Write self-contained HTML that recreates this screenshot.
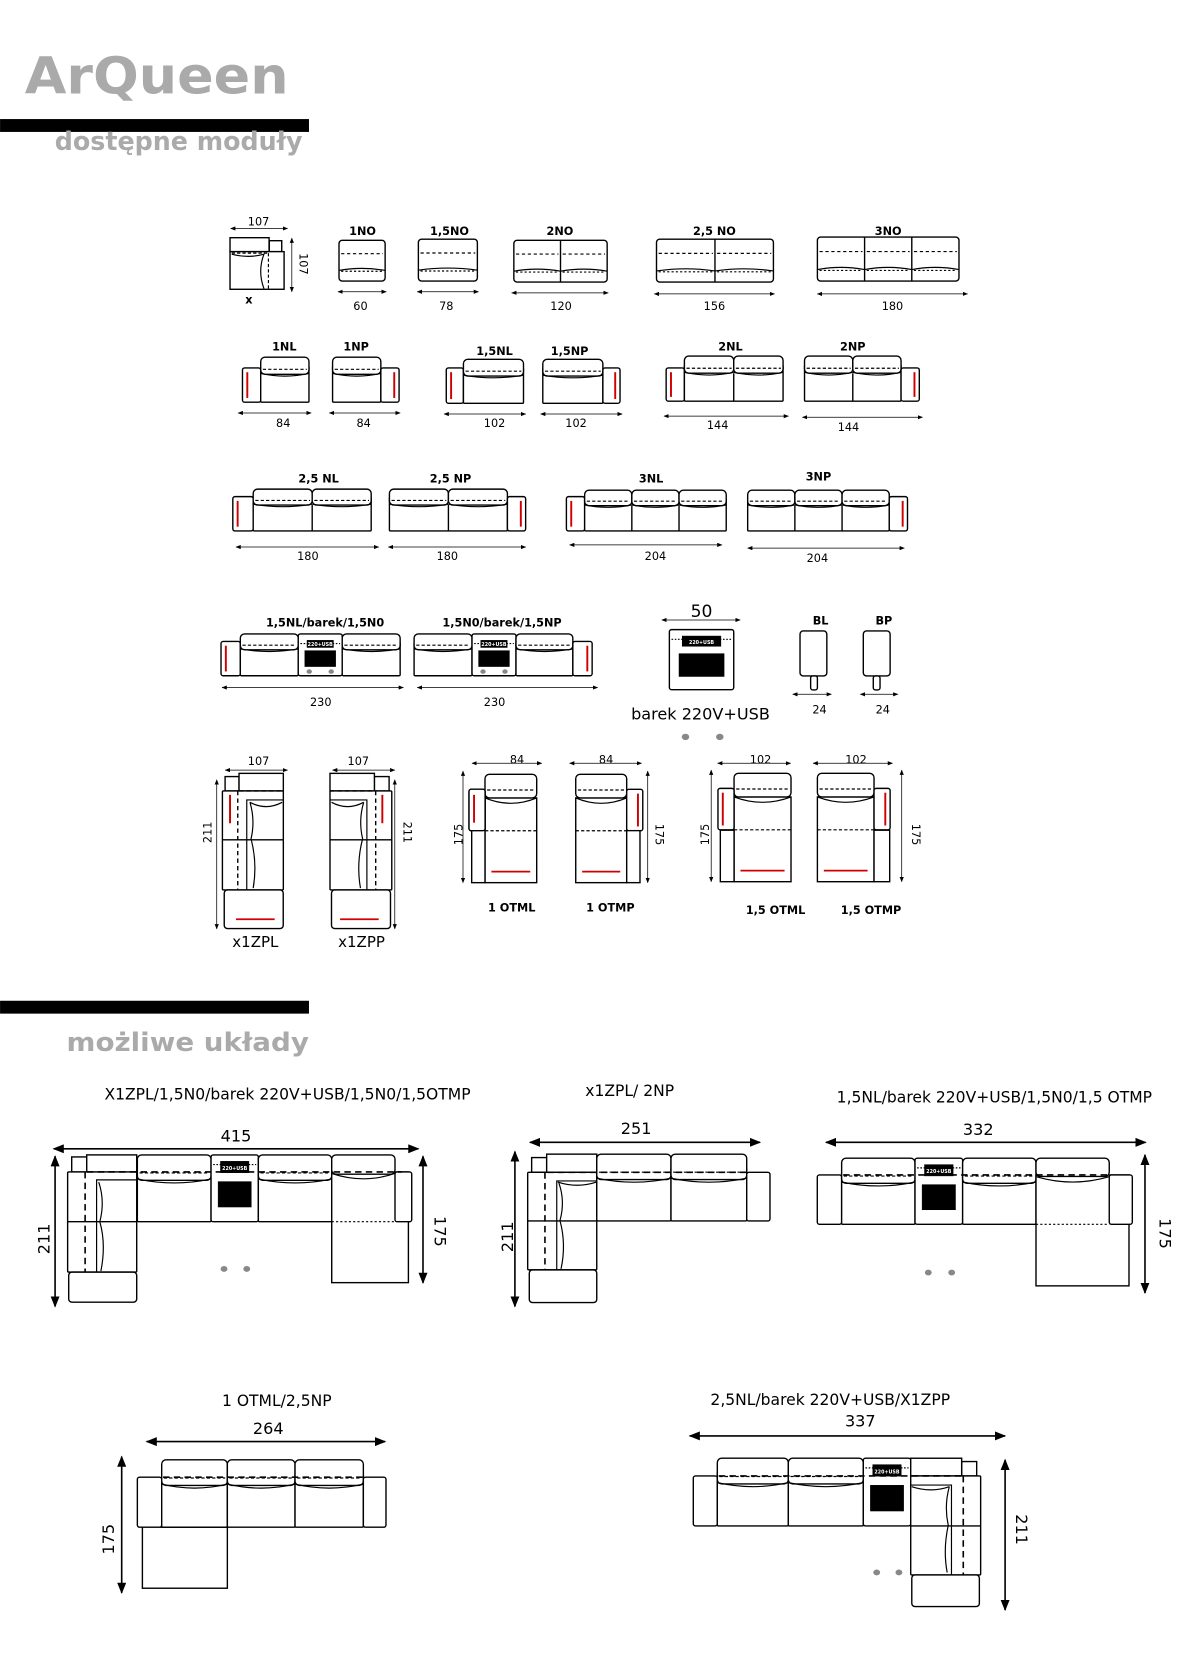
<!DOCTYPE html>
<html><head><meta charset="utf-8">
<style>
html,body{margin:0;padding:0;background:#fff;}
svg{display:block;}
text{font-family:"DejaVu Sans","Liberation Sans",sans-serif;}
.m{font-size:10.5px;font-weight:bold;text-anchor:middle;}
.d{font-size:10.5px;text-anchor:middle;}
.t{font-size:14.5px;text-anchor:middle;}
.D{font-size:15px;text-anchor:middle;}
</style></head>
<body>
<svg id="s" width="1180" height="1669" viewBox="0 0 1100 1556" xmlns="http://www.w3.org/2000/svg">
<defs>
<marker id="a" viewBox="0 0 10 8" refX="9" refY="4" markerWidth="7" markerHeight="5.6" orient="auto-start-reverse" markerUnits="strokeWidth"><path d="M0 0 L10 4 L0 8 Z" fill="#000"/></marker>
</defs>
<rect width="1100" height="1556" fill="#fff"/>
<text x="23" y="87" font-size="47" font-weight="bold" fill="#aaa" textLength="246" lengthAdjust="spacingAndGlyphs">ArQueen</text>
<rect x="0" y="111" width="288" height="12" fill="#000"/>
<text x="51" y="140" font-size="24" font-weight="bold" fill="#aaa" textLength="231" lengthAdjust="spacingAndGlyphs">dostępne moduły</text>
<rect x="0" y="933" width="288" height="12" fill="#000"/>
<text x="62" y="980" font-size="24" font-weight="bold" fill="#aaa" textLength="226" lengthAdjust="spacingAndGlyphs">możliwe układy</text>
<g id="g"></g>

<!-- row 1 labels -->
<text class="d" x="241" y="210">107</text>
<text class="d" transform="translate(279,246) rotate(90)">107</text>
<text class="m" x="232" y="283">x</text>
<text class="m" x="338" y="219">1NO</text>
<text class="m" x="419" y="219">1,5NO</text>
<text class="m" x="522" y="219">2NO</text>
<text class="m" x="666" y="219">2,5 NO</text>
<text class="m" x="828" y="219">3NO</text>
<text class="d" x="336" y="289">60</text>
<text class="d" x="416" y="289">78</text>
<text class="d" x="523" y="289">120</text>
<text class="d" x="666" y="289">156</text>
<text class="d" x="832" y="289">180</text>
<!-- row 2 -->
<text class="m" x="265" y="327">1NL</text>
<text class="m" x="332" y="327">1NP</text>
<text class="m" x="461" y="331">1,5NL</text>
<text class="m" x="531" y="331">1,5NP</text>
<text class="m" x="681" y="327">2NL</text>
<text class="m" x="795" y="327">2NP</text>
<text class="d" x="264" y="398">84</text>
<text class="d" x="339" y="398">84</text>
<text class="d" x="461" y="398">102</text>
<text class="d" x="537" y="398">102</text>
<text class="d" x="669" y="400">144</text>
<text class="d" x="791" y="402">144</text>
<!-- row 3 -->
<text class="m" x="297" y="450">2,5 NL</text>
<text class="m" x="420" y="450">2,5 NP</text>
<text class="m" x="607" y="450">3NL</text>
<text class="m" x="763" y="448">3NP</text>
<text class="d" x="287" y="522">180</text>
<text class="d" x="417" y="522">180</text>
<text class="d" x="611" y="522">204</text>
<text class="d" x="762" y="524">204</text>
<!-- row 4 -->
<text class="m" x="303" y="584">1,5NL/barek/1,5N0</text>
<text class="m" x="468" y="584">1,5N0/barek/1,5NP</text>
<text class="d" x="299" y="658">230</text>
<text class="d" x="461" y="658">230</text>
<text x="654" y="575" font-size="16" text-anchor="middle">50</text>
<text x="653" y="671" font-size="15" text-anchor="middle">barek 220V+USB</text>
<text class="m" x="765" y="582">BL</text>
<text class="m" x="824" y="582">BP</text>
<text class="d" x="764" y="665">24</text>
<text class="d" x="823" y="665">24</text>
<!-- row 5 -->
<text class="d" x="241" y="713">107</text>
<text class="d" x="334" y="713">107</text>
<text class="d" transform="translate(197,776) rotate(-90)">211</text>
<text class="d" transform="translate(376,776) rotate(90)">211</text>
<text x="238" y="883" font-size="14" text-anchor="middle">x1ZPL</text>
<text x="337" y="883" font-size="14" text-anchor="middle">x1ZPP</text>
<text class="d" x="482" y="712">84</text>
<text class="d" x="565" y="712">84</text>
<text class="d" transform="translate(431,778) rotate(-90)">175</text>
<text class="d" transform="translate(611,778) rotate(90)">175</text>
<text class="d" x="709" y="712">102</text>
<text class="d" x="798" y="712">102</text>
<text class="d" transform="translate(661,778) rotate(-90)">175</text>
<text class="d" transform="translate(850,778) rotate(90)">175</text>
<text class="m" x="477" y="850">1 OTML</text>
<text class="m" x="569" y="850">1 OTMP</text>
<text class="m" x="723" y="852">1,5 OTML</text>
<text class="m" x="812" y="852">1,5 OTMP</text>
<!-- layouts -->
<text class="t" x="268" y="1025">X1ZPL/1,5N0/barek 220V+USB/1,5N0/1,5OTMP</text>
<text class="D" x="220" y="1064">415</text>
<text class="D" transform="translate(46,1155) rotate(-90)">211</text>
<text class="D" transform="translate(405,1148) rotate(90)">175</text>
<text class="t" x="587" y="1022">x1ZPL/ 2NP</text>
<text class="D" x="593" y="1057">251</text>
<text class="D" transform="translate(478,1153) rotate(-90)">211</text>
<text class="t" x="927" y="1028">1,5NL/barek 220V+USB/1,5N0/1,5 OTMP</text>
<text class="D" x="912" y="1058">332</text>
<text class="D" transform="translate(1081,1150) rotate(90)">175</text>
<text class="t" x="258" y="1311">1 OTML/2,5NP</text>
<text class="D" x="250" y="1337">264</text>
<text class="D" transform="translate(106,1435) rotate(-90)">175</text>
<text class="t" x="774" y="1310">2,5NL/barek 220V+USB/X1ZPP</text>
<text class="D" x="802" y="1330">337</text>
<text class="D" transform="translate(947,1426) rotate(90)">211</text>
</svg>
<script>
var S=[];
function r(x,y,w,h,rx,f,sw){S.push('<rect x="'+x+'" y="'+y+'" width="'+w+'" height="'+h+'" rx="'+(rx==null?2:rx)+'" fill="'+(f||'#fff')+'" stroke="#000" stroke-width="'+(sw||1.3)+'"/>');}
function l(x1,y1,x2,y2,d,c,w){S.push('<line x1="'+x1+'" y1="'+y1+'" x2="'+x2+'" y2="'+y2+'" stroke="'+(c||'#000')+'" stroke-width="'+(w||1.1)+'"'+(d?' stroke-dasharray="'+d+'"':'')+'/>');}
function p(d,w){S.push('<path d="'+d+'" fill="none" stroke="#000" stroke-width="'+(w||1.1)+'"/>');}
function ha(x1,x2,y,w){w=w||0.7;S.push('<line x1="'+x1+'" y1="'+y+'" x2="'+x2+'" y2="'+y+'" stroke="#000" stroke-width="'+w+'" marker-start="url(#a)" marker-end="url(#a)"/>');}
function va(x,y1,y2,w){w=w||0.7;S.push('<line x1="'+x+'" y1="'+y1+'" x2="'+x+'" y2="'+y2+'" stroke="#000" stroke-width="'+w+'" marker-start="url(#a)" marker-end="url(#a)"/>');}
function dot(x,y,rr){S.push('<ellipse cx="'+x+'" cy="'+y+'" rx="'+(rr||3.2)+'" ry="'+((rr||3.2)*0.85)+'" fill="#888"/>');}
function m1(x,y,w,h,n){r(x,y,w,h,3);var sw=w/n;for(var i=0;i<n;i++){var a=x+i*sw,b=a+sw;l(a+2,y+h*0.33,b-2,y+h*0.33,'3,2.5');p('M'+a+' '+(y+h*0.74)+' Q'+(a+sw/2)+' '+(y+h*0.64)+' '+b+' '+(y+h*0.74));l(a+2,y+h*0.76,b-2,y+h*0.76,'2,2');if(i)l(a,y,a,y+h,0,0,1.3);}}
function m2(x,y,w,h,n){r(x,y+h*0.2,w,h*0.8,1);var sw=w/n;for(var i=0;i<n;i++){var a=x+i*sw,b=a+sw;r(a,y,sw,h*0.38,4);l(a+2,y+h*0.27,b-2,y+h*0.27,'3,2');p('M'+a+' '+(y+h*0.36)+' Q'+(a+sw/2)+' '+(y+h*0.48)+' '+b+' '+(y+h*0.36));if(i)l(a,y+h*0.38,a,y+h,0,0,1.3);}}
function arm(x,y,w,h,side){r(x,y,w,h,2);var rx=side=='L'?x+4.5:x+w-4.5;l(rx,y+4,rx,y+h-4,0,'#d00000',1.8);}
function bar(x,y,w,h,dots){r(x,y,w,h,2);l(x+2,y+9,x+w-2,y+9,'1.5,1.5');r(x+w*0.2,y+6,w*0.6,h*0.17,0,'#000',0.5);S.push('<text x="'+(x+w/2)+'" y="'+(y+6+h*0.13)+'" font-size="4.5" fill="#fff" text-anchor="middle" font-weight="bold">220+USB</text>');r(x+w*0.15,y+h*0.4,w*0.7,h*0.38,0,'#000',0.5);if(dots){dot(x+w*0.25,y+h*0.9,2.5);dot(x+w*0.75,y+h*0.9,2.5);}}

// ROW 1
r(251,224.4,11.6,10.2,0);r(214.4,221.6,36.4,13,0);r(214.4,234.6,50.4,35.1,0);
l(216,236,250,236,'3,2');l(250.2,236,250.2,269.7,'3,2');
p('M216 237 Q232 241 246 237 Q240 253 246 269');
ha(215,268,213);va(272,222,272);
m1(316,224,43,38,1);ha(315,360,272);
m1(390,223,55,39,1);ha(389,446,272);
m1(479,224,87,39,2);ha(477,567,273);
m1(612,223,109,40,2);ha(610,722,274);
m1(762,221,132,41,3);ha(762,902,274);
// ROW 2
arm(226,343,17,32,'L');m2(243,333,45,42,1);ha(222,290,385);
m2(310,333,45,42,1);arm(355,343,17,32,'R');ha(307,373,385);
arm(416,343,16,33,'L');m2(432,335,56,41,1);ha(414,490,386);
m2(506,335,56,41,1);arm(562,343,16,33,'R');ha(504,580,386);
arm(621,343,17,31,'L');m2(638,332,92,42,2);ha(619,735,388);
m2(750,332,90,42,2);arm(840,343,17,31,'R');ha(748,860,389);
// ROW 3
arm(217,463,19,32,'L');m2(236,456,110,39,2);ha(220,353,510);
m2(363,456,110,39,2);arm(473,463,17,32,'R');ha(362,490,510);
arm(528,463,17,32,'L');m2(545,457,132,38,3);ha(531,673,508);
m2(697,457,132,38,3);arm(829,463,17,32,'R');ha(697,843,511);
// ROW 4
arm(206,598,18,32,'L');m2(224,591,54,39,1);bar(278,591,41,39,1);m2(319,591,54,39,1);ha(207,376,641);
m2(386,591,54,39,1);bar(440,591,41,39,1);m2(481,591,53,39,1);arm(534,598,18,32,'R');ha(389,557,641);
bar(624,587,60,56,0);ha(617,690,578);
dot(639,687,3.5);dot(671,687,3.5);
r(745.8,588.2,25,42,3);r(755.7,630.2,6.3,13,2);ha(739,775,647.3);
r(804.8,588.2,25,42,3);r(814.1,630.2,6.3,13,2);ha(802,837,647.3);
// ROW 5 ZPL
r(209.8,724,13,13.4,0);r(222.8,721,41.3,16.4,0);r(207.3,737.4,56.8,92.3,1);r(209,829.7,55,36,3);
l(207.3,783,264,783,0,0,1.3);l(222.8,737.4,264,737.4,'4,3',0,1.3);l(221.6,737.4,221.6,829.7,'4,3',0,1.3);
l(214.4,741,214.4,767.5,0,'#d00000',1.8);l(220,857,256,857,0,'#d00000',1.6);
p('M230 830 L230 745.8 L264 745.8');p('M233 748 Q238 765 234 782 Q240 805 236 828');p('M233 748 Q248 756 263 748');
ha(210,268,718);va(202,727,866);
// ZPP
r(349,724,13.7,13.4,0);r(307.6,721,41.4,16.4,0);r(307.6,737.4,57.6,92.3,1);r(309,829.7,55,36,3);
l(307.6,783,365,783,0,0,1.3);l(307.6,737.4,349,737.4,'4,3',0,1.3);l(350.2,737.4,350.2,829.7,'4,3',0,1.3);
l(356.4,741,356.4,767.5,0,'#d00000',1.8);l(317,857,353,857,0,'#d00000',1.6);
p('M342 830 L342 745.8 L307.6 745.8');p('M339 748 Q334 765 338 782 Q332 805 336 828');p('M309 748 Q324 756 339 748');
ha(310,368,718);va(368,727,866);
// OTML / OTMP
function otm(bx,bw,ax,side,top,bot,arrX){r(bx,top+22,bw,bot-top-22,0);r(bx,top,bw,22,4);
 l(bx+2,top+14.6,bx+bw-2,top+14.6,'3,2');p('M'+bx+' '+(top+22)+' Q'+(bx+bw/2)+' '+(top+32)+' '+(bx+bw)+' '+(top+22));
 arm(ax,top+14,15,38.6,side);l(side=='L'?ax+15:bx,top+52.6,side=='L'?bx+bw:ax,top+52.6,'3,2');
 l(bx+6,bot-10.3,bx+bw-6,bot-10.3,0,'#d00000',1.6);va(arrX,top-3,bot);}
otm(452.1,48.2,437.2,'L',721.9,822.9,431.6);r(439.7,743.6,12.4,79.3,0);r(437.2,735.8,15,38.6,2);l(441.9,741,441.9,767,0,'#d00000',1.8);
ha(440,505,711.6);
otm(536.7,47.5,584.2,'R',721.9,822.9,603.8);r(584.2,774.4,12.4,48.5,0);ha(531,598,711.6);
otm(684.3,53.1,669.3,'L',721,822,663);r(671.5,774,12.8,48,0);ha(669,737,711.6);
otm(762,52.8,814.8,'R',721,822,840.6);r(814.8,774,14.6,48,0);ha(758,832,711.6);

// LAYOUT 1
r(66.8,1078.6,14,14,0);r(80.8,1076.7,46.6,16,0);r(63,1092.6,64.4,93.4,1);r(64,1186,63.4,28,3);l(63,1139,127.4,1139,0,0,1.3);
p('M90 1186 L90 1100 L127 1100');p('M92 1102 Q98 1120 93 1139 Q99 1160 94 1185');
m2(128,1076.7,68.7,62.3,1);bar(196.7,1076.7,44.1,62.3,0);m2(240.8,1076.7,68.4,62.3,1);
r(309.2,1092.6,71.5,103.2,0);r(309.2,1076.7,59,18,4);r(368.2,1092.6,15.6,46.4,2);l(309.2,1139,368,1139,'2,2');
p('M309 1094 Q339 1104 368 1094');
l(81,1092.6,374.5,1092.6,'6,4',0,1.5);l(79.3,1092.6,79.3,1186,'6,4',0,1.5);
dot(208.8,1183);dot(230,1183);
ha(50,390,1071,1.5);va(51.3,1078,1218,1.5);va(394.3,1078,1196,1.5);
// LAYOUT 2
r(495.6,1079.2,14,13.7,0);r(509.6,1076,46.7,17,0);r(491.9,1092.9,64.4,91,1);r(493.4,1183.9,62.9,30.5,3);l(491.9,1138.3,556.3,1138.3,0,0,1.3);
p('M519 1184 L519 1101 L556 1101');p('M521 1103 Q527 1120 522 1138 Q528 1160 523 1183');p('M520 1102 Q538 1108 556 1102');
m2(556.3,1076,69.2,62.3,1);m2(625.5,1076,70.6,62.3,1);r(696.1,1092.9,21.7,45.4,2);
l(510,1092.9,696,1092.9,'6,4',0,1.5);l(508,1092.9,508,1184,'6,4',0,1.5);
ha(494,708.5,1065,1.5);va(480,1073.6,1218,1.5);
// LAYOUT 3
r(761.9,1095.4,22.7,46,2);m2(784.6,1079.8,68.4,61.6,1);bar(853,1079.8,44.4,61.6,0);m2(897.4,1079.8,68.4,61.6,1);
r(965.8,1095.4,86.7,103.4,0);r(965.8,1079.8,68.3,17,4);r(1034.1,1095.4,21.5,46,2);l(965.8,1141.4,1034,1141.4,'2,2');
p('M966 1097 Q1000 1107 1034 1097');
l(786,1095.4,1034,1095.4,'6,4',0,1.5);
dot(865.4,1186.4);dot(887.2,1186.4);
ha(770,1068,1065,1.5);va(1067.4,1076.7,1205.4,1.5);
// LAYOUT 4
r(128,1377.2,22.7,46.6,2);r(132.7,1423.8,79.2,56.9,0);l(150.7,1423.8,211.9,1423.8,'2,2');
m2(150.7,1361,61.2,62.8,1);m2(211.9,1361,63.1,62.8,1);m2(275,1361,63.7,62.8,1);r(338.7,1377.2,21.1,46.6,2);
l(152,1377.2,338,1377.2,'6,4',0,1.5);
ha(136.7,359,1344,1.5);va(113.4,1358,1485,1.5);
// LAYOUT 5
r(646.3,1376,22.4,46.6,2);m2(668.7,1359.5,66.2,63.1,1);m2(734.9,1359.5,69.9,63.1,1);bar(804.8,1359.5,44.2,63.1,0);
r(896.5,1362.6,14,13.4,0);r(849,1359.5,47.5,16.5,0);r(849,1376,65.2,92.3,1);r(850,1468.3,63,29.5,3);l(849,1422.6,914.2,1422.6,0,0,1.3);
p('M887 1468 L887 1384.5 L849 1384.5');p('M885 1386 Q880 1404 884 1422 Q879 1445 883 1466');p('M850 1386 Q868 1392 885 1386');
l(670,1376,898,1376,'6,4',0,1.5);l(898,1376,898,1468,'6,4',0,1.5);
dot(817.3,1466);dot(838,1466);
ha(643,937,1338.7,1.5);va(937,1361,1501,1.5);
document.getElementById('g').innerHTML=S.join('');
</script>
</body></html>
